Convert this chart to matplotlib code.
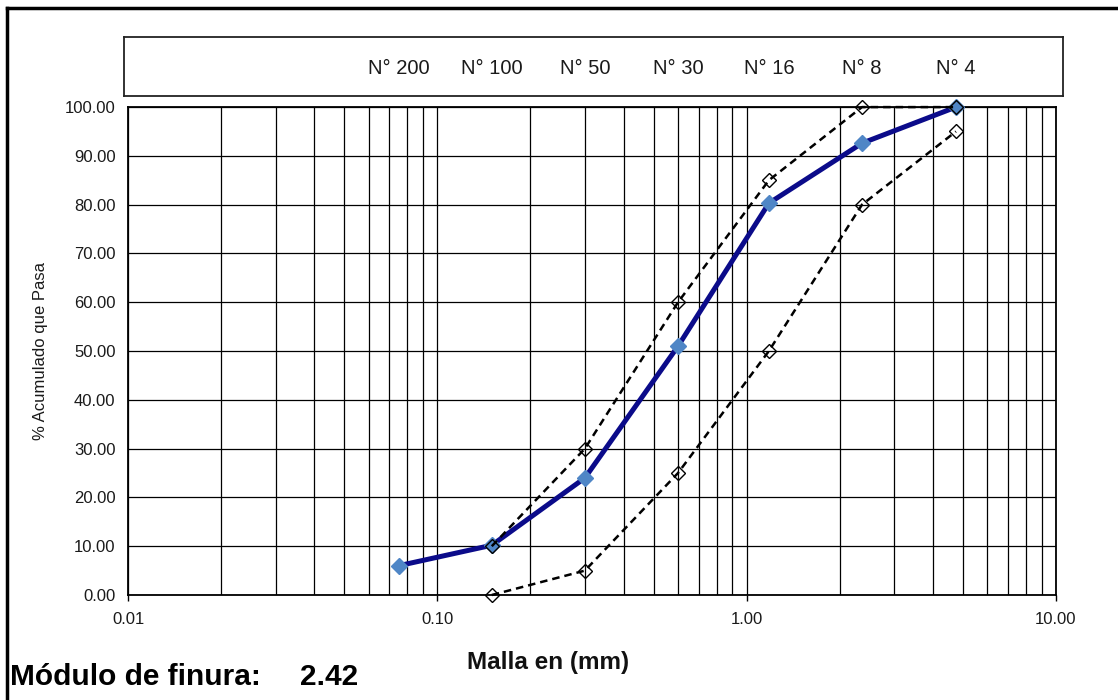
import matplotlib
matplotlib.use("Agg")
import matplotlib.pyplot as plt
from matplotlib.lines import Line2D
from matplotlib.ticker import LogLocator, FixedLocator, NullFormatter
from matplotlib.transforms import blended_transform_factory

plt.rcParams['font.family'] = ['Liberation Sans', 'DejaVu Sans']

# sieve openings (mm) and names
sieve_mm = [0.075, 0.15, 0.3, 0.6, 1.18, 2.36, 4.75]
sieve_names = ["N° 200", "N° 100", "N° 50", "N° 30", "N° 16", "N° 8", "N° 4"]

# % passing of the sample
passing = [6.0, 10.2, 24.0, 51.0, 80.3, 92.6, 100.0]

# grading limits (No. 100 to No. 4)
limit_mm = [0.15, 0.3, 0.6, 1.18, 2.36, 4.75]
upper_limit = [10, 30, 60, 85, 100, 100]
lower_limit = [0, 5, 25, 50, 80, 95]

y_ticks = [0, 10, 20, 30, 40, 50, 60, 70, 80, 90, 100]
x_ticks = [0.01, 0.1, 1, 10]
x_tick_labels = ["0.01", "0.10", "1.00", "10.00"]

fig = plt.figure(figsize=(11.18, 7), dpi=100)
ax = fig.add_axes([0.1145, 0.15, 0.830, 0.697])

ax.set_xscale('log')
ax.set_xlim(0.01, 10)
ax.set_ylim(0, 100)

# grid on every log step and every 10 %
ax.xaxis.set_major_locator(FixedLocator(x_ticks))
ax.xaxis.set_minor_locator(LogLocator(base=10, subs=range(2, 10)))
ax.xaxis.set_minor_formatter(NullFormatter())
ax.set_xticklabels(x_tick_labels)
ax.set_yticks(y_ticks)
ax.set_yticklabels(["%.2f" % v for v in y_ticks])
ax.grid(True, which='both', axis='x', color='black', linewidth=0.9)
ax.grid(True, which='major', axis='y', color='black', linewidth=0.9)
ax.set_axisbelow(True)

ax.tick_params(axis='x', which='major', length=4, width=1, pad=8,
               labelsize=12, colors='black', labelcolor='#1a1a1a')
ax.tick_params(axis='x', which='minor', length=0)
ax.tick_params(axis='y', length=0, pad=9, labelsize=12, labelcolor='#1a1a1a')
for s in ax.spines.values():
    s.set_linewidth(1.3)
    s.set_color('black')

# sample curve
ax.plot(sieve_mm, passing, color='#0b0b8a', linewidth=3.6, marker='D',
        markersize=8, markerfacecolor='#4f86c6', markeredgecolor='#4f86c6',
        zorder=3, clip_on=False)

# limits
for lim in (upper_limit, lower_limit):
    ax.plot(limit_mm, lim, color='black', linestyle=(0, (3, 2)), linewidth=1.8,
            marker='D', markersize=7, markerfacecolor='none',
            markeredgecolor='black', markeredgewidth=1.0, zorder=4, clip_on=False)

ax.set_ylabel("% Acumulado que Pasa", fontsize=12, color='#1a1a1a')
ax.yaxis.set_label_coords(-0.086, 0.5)

# top box with sieve names
box = fig.add_axes([0.1109, 0.863, 0.840, 0.084])
box.set_xticks([])
box.set_yticks([])
for s in box.spines.values():
    s.set_linewidth(1.3)
    s.set_color('#222222')
trans = blended_transform_factory(ax.transData, box.transAxes)
for mm, name in zip(sieve_mm, sieve_names):
    box.text(mm, 0.47, name, transform=trans, ha='center', va='center',
             fontsize=14.5, color='#1a1a1a')

fig.text(0.49, 0.053, "Malla en (mm)", ha='center', va='center',
         fontsize=17.5, fontweight='bold', color='#111111')
fig.text(0.009, 0.033, "Módulo de finura:", ha='left', va='center',
         fontsize=21.5, fontweight='bold', color='black')
fig.text(0.268, 0.033, "2.42", ha='left', va='center',
         fontsize=21.5, fontweight='bold', color='black')

# outer frame (top and left edges)
fig.add_artist(Line2D([0.0063, 1.0], [0.988, 0.988], color='black', linewidth=2.5,
                      transform=fig.transFigure))
fig.add_artist(Line2D([0.0063, 0.0063], [0.0, 0.988], color='black', linewidth=2.5,
                      transform=fig.transFigure))

fig.savefig("out.png", dpi=100)
